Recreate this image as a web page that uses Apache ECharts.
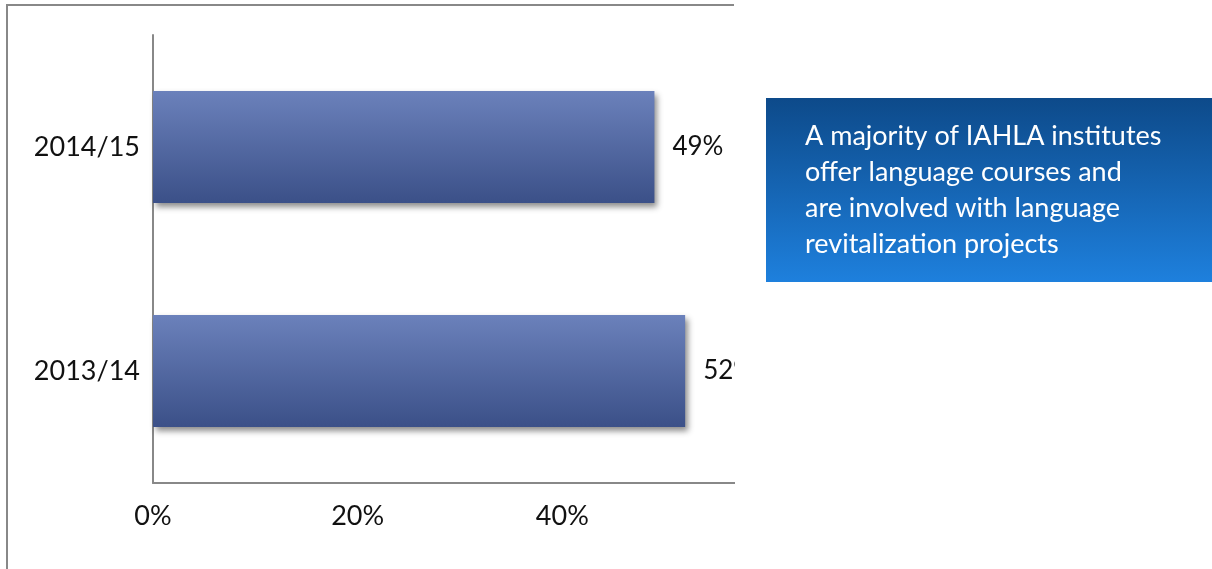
<!DOCTYPE html>
<html>
<head>
<meta charset="utf-8">
<script src="https://cdn.jsdelivr.net/npm/echarts@6/dist/echarts.min.js"></script>
<style>html,body{margin:0;padding:0;background:#fff;}#c{width:1212px;height:569px;}</style>
</head>
<body>
<div id="c"></div>
<script>
const categories = ['2013/14', '2014/15'];
const values = [52, 49];
const xTicks = [0, 20, 40, 60];
const noteLines = ['A majority of IAHLA institutes', 'offer language courses and', 'are involved with language', 'revitalization projects'];

const FONT = 'Lato, "Open Sans", sans-serif';
const chart = echarts.init(document.getElementById('c'), null, {renderer: 'canvas'});
chart.setOption({
  animation: false,
  backgroundColor: '#ffffff',
  grid: {left: 153, right: 1212 - 767, top: 35, bottom: 86, containLabel: false},
  xAxis: {
    type: 'value', min: xTicks[0], max: xTicks[xTicks.length - 1], interval: 20,
    axisLine: {show: true, lineStyle: {color: '#888888', width: 2}},
    axisTick: {show: false},
    splitLine: {show: false},
    axisLabel: {formatter: '{value}%', color: '#111', fontSize: 27, fontFamily: FONT, margin: 20}
  },
  yAxis: {
    type: 'category', data: categories,
    axisLine: {show: true, lineStyle: {color: '#888888', width: 2}},
    axisTick: {show: false},
    axisLabel: {color: '#111', fontSize: 27, fontFamily: FONT, margin: 13}
  },
  series: [{
    type: 'bar', data: values, barWidth: '50%',
    itemStyle: {
      color: new echarts.graphic.LinearGradient(0, 0, 0, 1, [
        {offset: 0, color: '#6b81bb'}, {offset: 1, color: '#3b5088'}]),
      shadowColor: 'rgba(0,0,0,0.45)', shadowBlur: 6, shadowOffsetX: 3, shadowOffsetY: 4
    },
    label: {show: true, position: 'right', distance: 18, formatter: '{c}%', color: '#111', fontSize: 26, fontFamily: FONT}
  }],
  graphic: [
    {type: 'rect', z: 50, shape: {x: 735, y: 0, width: 477, height: 569}, style: {fill: '#ffffff'}},
    {type: 'polyline', z: 51, shape: {points: [[7, 569], [7, 5], [734, 5]]}, style: {stroke: '#888888', lineWidth: 2, fill: null}},
    {type: 'rect', z: 52, shape: {x: 766, y: 98, width: 446, height: 184},
      style: {fill: new echarts.graphic.LinearGradient(0, 0, 0, 1, [
        {offset: 0, color: '#0d4a8a'}, {offset: 1, color: '#1e80dd'}])}},
    {type: 'text', z: 53, x: 805, y: 118,
      style: {text: noteLines.join('\n'), fill: '#ffffff', font: '27px ' + FONT, lineHeight: 36}}
  ]
});
</script>
</body>
</html>
